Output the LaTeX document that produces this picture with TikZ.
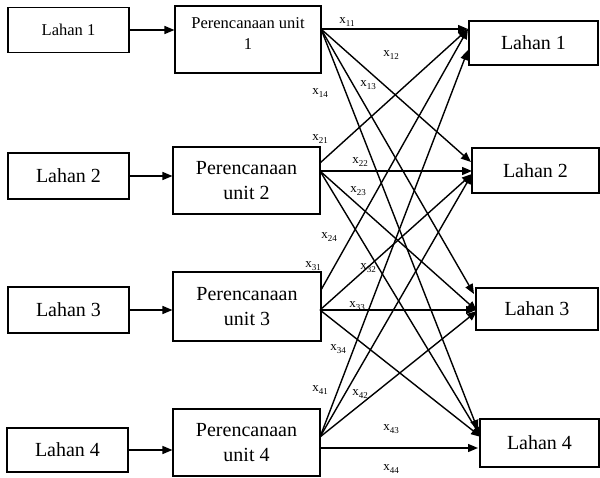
\documentclass[tikz,border=0pt]{standalone}
\usepackage{fontspec}
\setmainfont{Liberation Serif}
\usetikzlibrary{arrows.meta}
\newcommand\lsub[1]{\raisebox{-2.5pt}{\fontsize{9}{9}\selectfont #1}}
\begin{document}
\begin{tikzpicture}[x=1pt,y=-1pt,
  box/.style={draw, line width=1.1pt, inner sep=0pt, align=center, font=\fontsize{20}{25}\selectfont},
  smallfont/.style={font=\fontsize{16.5}{21}\selectfont},
  arr/.style={line width=1.4pt, -{Triangle[length=10pt,width=8pt]}},
  lbl/.style={inner sep=0pt, font=\fontsize{13}{15}\selectfont}]
\useasboundingbox (0,0) rectangle (600,477);
% left boxes
\node[box, smallfont, minimum width=121pt, minimum height=45pt] (L1) at (68.5,30) {Lahan 1};
\node[box, minimum width=121pt, minimum height=46pt] (L2) at (68.5,176) {Lahan 2};
\node[box, minimum width=121pt, minimum height=46pt] (L3) at (68.5,310) {Lahan 3};
\node[box, minimum width=121pt, minimum height=44pt] (L4) at (67.5,450) {Lahan 4};
% planning boxes
\node[box, minimum width=146pt, minimum height=67pt] (P1) at (248,39.5) {};
\node[smallfont, align=center, inner sep=0pt] (P1t) at (248,33.5) {Perencanaan unit\\1};
\node[box, minimum width=147pt, minimum height=67pt] (P2) at (246.5,180.5) {Perencanaan\\unit 2};
\node[box, minimum width=148pt, minimum height=69pt] (P3) at (247,306.5) {Perencanaan\\unit 3};
\node[box, minimum width=147pt, minimum height=67pt] (P4) at (246.5,442.5) {Perencanaan\\unit 4};
% right boxes
\node[box, minimum width=129pt, minimum height=44pt] (R1) at (533.5,43) {Lahan 1};
\node[box, minimum width=127pt, minimum height=45pt] (R2) at (535.5,170.5) {Lahan 2};
\node[box, minimum width=122pt, minimum height=42pt] (R3) at (537,309) {Lahan 3};
\node[box, minimum width=119pt, minimum height=48pt] (R4) at (539.5,443) {Lahan 4};
% left arrows
\draw[arr] (L1.east) -- (L1.east -| P1.west);
\draw[arr] (L2.east) -- (L2.east -| P2.west);
\draw[arr] (L3.east) -- (L3.east -| P3.west);
\draw[arr] (L4.east) -- (L4.east -| P4.west);
% connector ends
\coordinate (o1) at (321,29);
\coordinate (o2a) at (320,163);
\coordinate (o2) at (320,171);
\coordinate (o3a) at (321,290);
\coordinate (o3) at (320,310);
\coordinate (o4) at (320,437);
\coordinate (o4b) at (320,448);
\coordinate (t1a) at (468,29);
\coordinate (t1b) at (468,50);
\coordinate (t2a) at (471,162);
\coordinate (t2b) at (472,171);
\coordinate (t2c) at (472,174);
\coordinate (t3a) at (474,294);
\coordinate (t3b) at (476,310);
\coordinate (t3c) at (477,311);
\coordinate (t4a) at (478,430);
\coordinate (t4b) at (481,437);
\coordinate (t4c) at (478,448);
% cross connectors
\draw[arr] (o1) -- (t1a);
\draw[arr] (o1) -- (t2a);
\draw[arr] (o1) -- (t3a);
\draw[arr] (o1) -- (t4a);
\draw[arr] (o2a) -- (t1a);
\draw[arr] (o2) -- (t2b);
\draw[arr] (o2) -- (t3c);
\draw[arr] (o2) -- (t4b);
\draw[arr] (o3a) -- (t1a);
\draw[arr] (o3) -- (t2c);
\draw[arr] (o3) -- (t3b);
\draw[arr] (o3) -- (t4b);
\draw[arr] (o4) -- (t1b);
\draw[arr] (o4) -- (t2c);
\draw[arr] (o4) -- (t3c);
\draw[arr] (o4b) -- (t4c);
% labels
\node[lbl] (x11) at (347,22) {x\lsub{11}};
\node[lbl] (x12) at (391,55) {x\lsub{12}};
\node[lbl] (x13) at (368,85) {x\lsub{13}};
\node[lbl] (x14) at (320,93) {x\lsub{14}};
\node[lbl] (x21) at (320,139) {x\lsub{21}};
\node[lbl] (x22) at (360,162) {x\lsub{22}};
\node[lbl] (x23) at (358,191) {x\lsub{23}};
\node[lbl] (x24) at (329,237) {x\lsub{24}};
\node[lbl] (x31) at (313,266) {x\lsub{31}};
\node[lbl] (x32) at (368,268) {x\lsub{32}};
\node[lbl] (x33) at (357,306) {x\lsub{33}};
\node[lbl] (x34) at (338,349) {x\lsub{34}};
\node[lbl] (x41) at (320,390) {x\lsub{41}};
\node[lbl] (x42) at (360,394) {x\lsub{42}};
\node[lbl] (x43) at (391,429) {x\lsub{43}};
\node[lbl] (x44) at (391,469) {x\lsub{44}};
\end{tikzpicture}
\end{document}
